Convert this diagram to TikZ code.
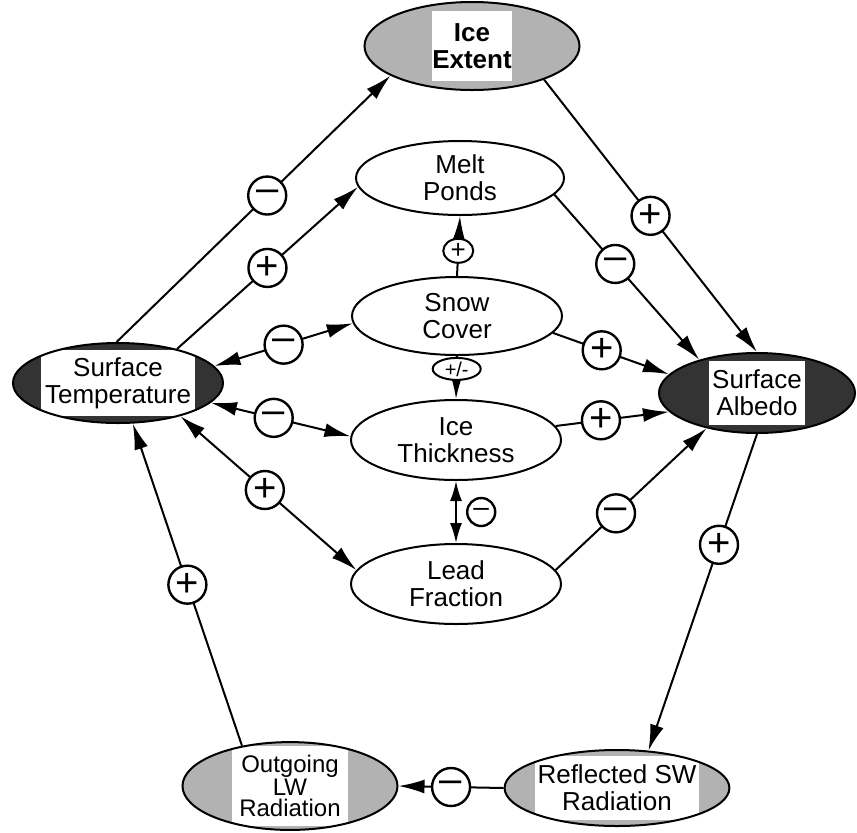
\documentclass[tikz,border=0pt]{standalone}
\usepackage{fontspec}
\setmainfont{Liberation Sans}
\usetikzlibrary{positioning,calc,shapes.geometric}
\usetikzlibrary{arrows.meta}

\begin{document}
\begin{tikzpicture}[x=0.5pt,y=-0.5pt,
    factor/.style={ellipse,draw,line width=1pt,inner sep=0pt,align=center,font=\fontsize{13}{13.5}\selectfont},
    plain/.style={factor,fill=white},
    light/.style={factor,fill=black!30},
    dark/.style={factor,fill=black!80},
    textbox/.style 2 args={path picture={\fill[white] ([xshift=-#1,yshift=-#2]path picture bounding box.center) rectangle ([xshift=#1,yshift=#2]path picture bounding box.center);}},
    sign/.style={circle,draw,fill=white,line width=1.2pt,minimum size=19pt,inner sep=0pt,font=\fontsize{20}{20}\selectfont},
    small sign/.style={sign,minimum size=14pt,font=\fontsize{14}{14}\selectfont},
    flat sign/.style={ellipse,draw,fill=white,line width=1pt,inner sep=0pt},
    link/.style={draw,line width=1pt,-{Latex[length=13pt,width=7pt]}},
    both/.style={link,{Latex[length=13pt,width=7pt]}-{Latex[length=13pt,width=7pt]}}]
    \useasboundingbox (0,0) rectangle (857,832);

    % outer ring
    \node[light,textbox={20pt}{17.5pt},minimum width=107.5pt,minimum height=44pt,font=\fontsize{13}{13.5}\selectfont\bfseries] (ie) at (472,46) {Ice\\Extent};
    \node[dark,textbox={38.5pt}{16.5pt},minimum width=105pt,minimum height=40pt] (st) at (118,383) {Surface\\Temperature};
    \node[dark,textbox={24pt}{16pt},minimum width=98pt,minimum height=40pt] (sa) at (757,393) {Surface\\Albedo};
    \node[light,textbox={29pt}{20pt},minimum width=107.5pt,minimum height=40pt,font=\fontsize{12}{10.5}\selectfont] (lw) at (290,786) {Outgoing\\LW\\Radiation};
    \node[light,textbox={41pt}{16pt},minimum width=104pt,minimum height=38pt] (rsw) at (617,788) {Reflected SW\\Radiation};

    % inner column
    \node[plain,minimum width=104pt,minimum height=37pt] (mp) at (460,178) {Melt\\Ponds};
    \node[plain,minimum width=105pt,minimum height=39pt] (sc) at (457,316) {Snow\\Cover};
    \node[plain,minimum width=105pt,minimum height=40pt] (it) at (456,440) {Ice\\Thickness};
    \node[plain,minimum width=105pt,minimum height=40pt] (lf) at (456,584) {Lead\\Fraction};

    % links
    \draw[link] (st.92) -- node[sign,pos=.55] {–} (ie.200);
    \draw[link] (ie.-25) -- node[sign,pos=.5] {+} (sa.north);
    \draw[link] (st.30) -- node[sign,pos=.5] {+} (mp.185);
    \draw[link] (mp.350) -- node[sign,pos=.42] {–} (sa.150);
    \draw[link] (sc.north) -- node[flat sign,minimum width=15pt,minimum height=12pt,font=\fontsize{13}{13}\selectfont,pos=.42] {+} (mp.south);
    \draw[both] (st.10) -- node[sign,pos=.5] {–} (sc.184);
    \draw[link] (sc.-10) -- node[sign,pos=.42] {+} (sa.168);
    \draw[link] (sc.south) -- node[flat sign,minimum width=24pt,minimum height=11pt,font=\fontsize{10}{10}\selectfont,pos=.3] {+/-} (it.north);
    \draw[both] (st.-12) -- node[sign,pos=.45] {–} (it.178);
    \draw[link] (it.8) -- node[sign,pos=.4] {+} (sa.192);
    \draw[both] (st.-28) -- node[sign,pos=.48] {+} (lf.172);
    \draw[link] (lf.8) -- node[sign,pos=.4] {–} (sa.215);
    \draw[link,{Latex[length=10pt,width=6pt]}-{Latex[length=10pt,width=6pt]}] (it.south) -- node[small sign,pos=.5,right=5pt] {–} (lf.north);
    \draw[link] (sa.south) -- node[sign,pos=.35] {+} (rsw.50);
    \draw[link] (rsw.west) -- node[sign,pos=.5] {–} (lw.east);
    \draw[link] (lw.140) -- node[sign,pos=.5] {+} (st.-70);
\end{tikzpicture}
\end{document}
